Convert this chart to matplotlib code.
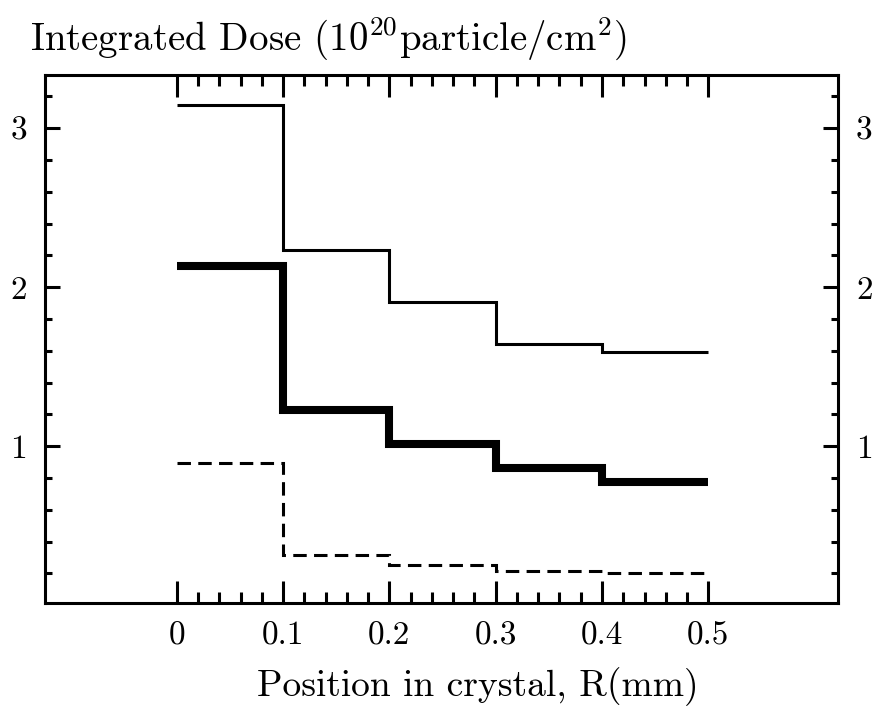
import matplotlib
matplotlib.use("Agg")
import matplotlib.pyplot as plt
import numpy as np
from matplotlib.ticker import FixedLocator

plt.rcParams['font.family'] = ['serif']
plt.rcParams['font.serif'] = ['cmr10', 'DejaVu Serif']
plt.rcParams['mathtext.fontset'] = 'cm'
plt.rcParams['axes.formatter.use_mathtext'] = True

# Data
edges = [0.0, 0.1, 0.2, 0.3, 0.4, 0.5]
total_dose = [3.146, 2.237, 1.906, 1.645, 1.592]
mid_dose = [2.136, 1.226, 1.013, 0.864, 0.778]
low_dose = [0.895, 0.316, 0.253, 0.217, 0.205]
xtick_vals = [0, 0.1, 0.2, 0.3, 0.4, 0.5]
xtick_labels = ['0', '0.1', '0.2', '0.3', '0.4', '0.5']
ytick_vals = [1, 2, 3]
ytick_labels = ['1', '2', '3']

fig = plt.figure(figsize=(8.74, 7.11), dpi=100)
ax = fig.add_axes([0.0515, 0.1519, 0.9073, 0.7426])

ax.stairs(total_dose, edges, color='black', linewidth=2.2, baseline=None)
ax.stairs(mid_dose, edges, color='black', linewidth=5.8, baseline=None)
ax.stairs(low_dose, edges, color='black', linewidth=2.2, baseline=None,
          linestyle=(0, (4.4, 2.4)))

ax.set_xlim(-0.124, 0.622)
ax.set_ylim(0.014, 3.335)

ax.xaxis.set_major_locator(FixedLocator(xtick_vals))
ax.set_xticklabels(xtick_labels)
ax.xaxis.set_minor_locator(FixedLocator([v for v in np.arange(0, 0.5001, 0.02)
                                         if abs((v * 10) - round(v * 10)) > 1e-6]))
ax.yaxis.set_major_locator(FixedLocator(ytick_vals))
ax.set_yticklabels(ytick_labels)
ax.yaxis.set_minor_locator(FixedLocator([v for v in np.arange(0.2, 3.3, 0.2)
                                         if abs(v - round(v)) > 1e-6]))

for s in ax.spines.values():
    s.set_linewidth(2.2)

ax.tick_params(axis='x', which='major', direction='in', length=16, width=2.2,
               top=True, bottom=True, labelsize=24, pad=13)
ax.tick_params(axis='x', which='minor', direction='in', length=8, width=2.2,
               top=True, bottom=True)
ax.tick_params(axis='y', which='major', direction='in', length=11, width=2.2,
               left=True, right=True, labelleft=True, labelright=True,
               labelsize=24, pad=13)
ax.tick_params(axis='y', which='minor', direction='in', length=5, width=2.2,
               left=True, right=True)

ax.set_xlabel('Position in crystal, R(mm)', fontsize=27, va='center')
ax.xaxis.set_label_coords((478 - 45) / 793, -(687 - 603) / 528)
fig.text(0.034, 0.947, r'Integrated Dose (10$^{20}$particle/cm$^{2}$)',
         fontsize=28, ha='left', va='center')

fig.savefig('out.png', dpi=100)
